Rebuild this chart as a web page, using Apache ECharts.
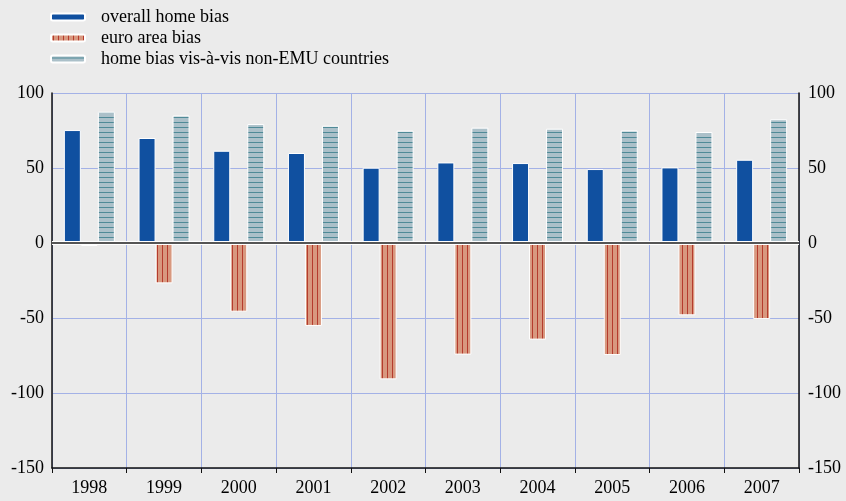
<!DOCTYPE html>
<html>
<head>
<meta charset="utf-8">
<script src="https://cdn.jsdelivr.net/npm/echarts@6/dist/echarts.min.js"></script>
<style>
  html, body { margin: 0; padding: 0; background: #ebebeb; }
  #chart { width: 846px; height: 501px; }
</style>
</head>
<body>
<div id="chart"></div>
<script>
  var years = ['1998', '1999', '2000', '2001', '2002', '2003', '2004', '2005', '2006', '2007'];
  var overallHomeBias = [75.3, 70, 61.5, 60, 50.2, 53.7, 53.3, 49.3, 50.4, 55.5];
  var euroAreaBias = [-2, -26.9, -45.8, -55.3, -90.9, -74.4, -64.4, -74.7, -48.2, -50.7];
  var nonEmuBias = [87.5, 85, 79.3, 78.2, 74.9, 76.9, 76.2, 75, 74, 82.5];

  var serif = '"Liberation Serif", "DejaVu Serif", serif';
  var gridBlue = '#a3b1e6';

  // vertical stripes for the euro area bars
  function stripesV() {
    var c = document.createElement('canvas');
    c.width = 5; c.height = 4;
    var g = c.getContext('2d');
    g.fillStyle = '#d8987f';
    g.fillRect(0, 0, 5, 4);
    g.fillStyle = '#b53b2d';
    g.fillRect(2, 0, 1, 4);
    return c;
  }

  // horizontal stripes for the non-EMU bars
  function stripesH() {
    var c = document.createElement('canvas');
    c.width = 5; c.height = 5;
    var g = c.getContext('2d');
    g.fillStyle = '#abc0c9';
    g.fillRect(0, 0, 5, 5);
    g.fillStyle = '#4f8a97';
    g.fillRect(0, 2, 5, 1);
    return c;
  }

  var chart = echarts.init(document.getElementById('chart'));

  var option = {
    backgroundColor: '#ebebeb',
    animation: false,
    legend: {
      orient: 'vertical',
      left: 45,
      top: 3,
      itemWidth: 34,
      itemHeight: 7,
      itemGap: 3,
      textStyle: { fontFamily: serif, fontSize: 18, color: '#000', padding: [0, 0, 0, 11] },
      data: ['overall home bias', 'euro area bias', 'home bias vis-à-vis non-EMU countries']
    },
    grid: { left: 52, right: 47, top: 93, bottom: 33 },
    xAxis: {
      type: 'category',
      data: years,
      axisLine: { onZero: false, lineStyle: { color: '#111', width: 1.5 } },
      axisTick: { show: true, length: 5, lineStyle: { color: '#111' } },
      axisLabel: { fontFamily: serif, fontSize: 18, color: '#000', margin: 11 },
      splitLine: { show: true, lineStyle: { color: gridBlue, width: 1 } }
    },
    yAxis: [{
      type: 'value',
      min: -150, max: 100, interval: 50,
      axisLine: { show: true, lineStyle: { color: '#111', width: 1.5 } },
      axisTick: { show: false },
      axisLabel: { fontFamily: serif, fontSize: 18, color: '#000', margin: 8 },
      splitLine: { show: true, lineStyle: { color: gridBlue, width: 1 } }
    }, {
      type: 'value',
      position: 'right',
      min: -150, max: 100, interval: 50,
      axisLine: { show: true, lineStyle: { color: '#111', width: 1.5 } },
      axisTick: { show: false },
      axisLabel: { fontFamily: serif, fontSize: 18, color: '#000', margin: 9 },
      splitLine: { show: false }
    }],
    series: [{
      name: 'overall home bias',
      type: 'bar',
      data: overallHomeBias,
      barWidth: 17,
      barGap: '0%',
      itemStyle: { color: '#1050a0', borderColor: '#fff', borderWidth: 1 },
      markLine: {
        silent: true,
        symbol: 'none',
        label: { show: false },
        data: [
          { yAxis: 0, lineStyle: { color: '#fff', width: 4, type: 'solid' } },
          { yAxis: 0, lineStyle: { color: '#555', width: 2, type: 'solid' } }
        ]
      }
    }, {
      name: 'euro area bias',
      type: 'bar',
      data: euroAreaBias,
      barWidth: 17,
      z: 3,
      itemStyle: {
        color: { image: stripesV(), repeat: 'repeat' },
        borderColor: '#fff', borderWidth: 1
      }
    }, {
      name: 'home bias vis-à-vis non-EMU countries',
      type: 'bar',
      data: nonEmuBias,
      barWidth: 17,
      itemStyle: {
        color: { image: stripesH(), repeat: 'repeat' },
        borderColor: '#fff', borderWidth: 1
      }
    }]
  };

  chart.setOption(option);
</script>
</body>
</html>
